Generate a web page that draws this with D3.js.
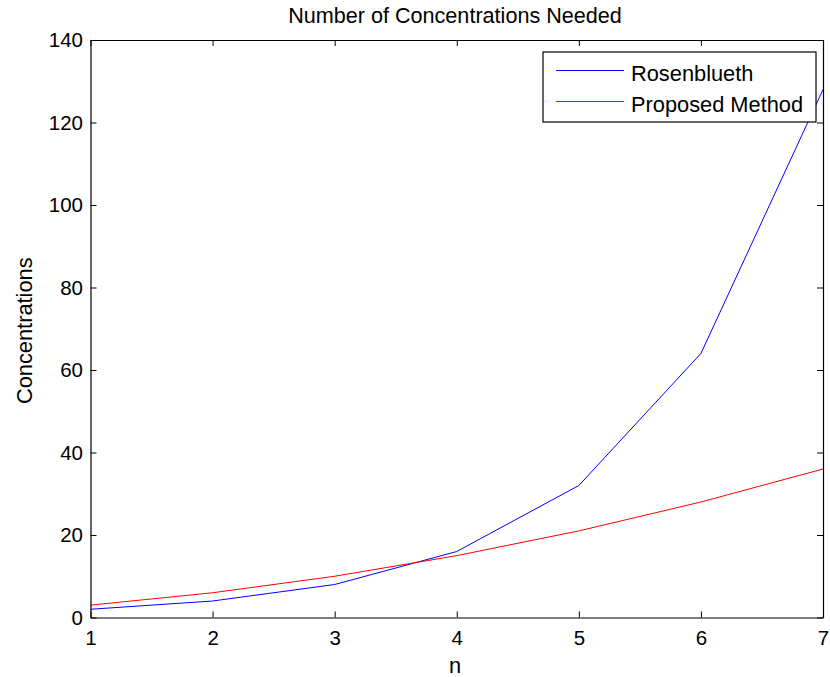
<!DOCTYPE html>
<html>
<head>
<meta charset="utf-8">
<script src="https://cdn.jsdelivr.net/npm/d3@7"></script>
<style>
  html, body { margin: 0; padding: 0; background: #fff; }
  text { font-family: "Liberation Sans", Arial, sans-serif; fill: #000; }
</style>
</head>
<body>
<svg id="chart" width="830" height="677"></svg>
<script>
// n values on the x axis
const nValues = [1, 2, 3, 4, 5, 6, 7];
// Concentrations required by each method
const rosenblueth = [2, 4, 8, 16, 32, 64, 128];
const proposed = [3, 6, 10, 15, 21, 28, 36];
const xTicks = [1, 2, 3, 4, 5, 6, 7];
const yTicks = [0, 20, 40, 60, 80, 100, 120, 140];
const seriesNames = ["Rosenblueth", "Proposed Method"];
const seriesColors = ["#0000ff", "#ff0000"];

const svg = d3.select("#chart");
const plotLeft = 90.5, plotRight = 823, plotTop = 40, plotBottom = 617.5;

const x = d3.scaleLinear().domain([1, 7]).range([plotLeft, plotRight]);
const y = d3.scaleLinear().domain([0, 140]).range([plotBottom, plotTop]);

const fs = 20.5;      // tick labels
const fsWords = 21.8; // title, axis labels, legend

// Series lines
const line = d3.line().x((d, i) => x(nValues[i])).y(d => y(d));
[rosenblueth, proposed].forEach((vals, k) => {
  svg.append("path")
    .datum(vals)
    .attr("d", line)
    .attr("fill", "none")
    .attr("stroke", seriesColors[k])
    .attr("stroke-width", 1);
});

// Axes box with inward ticks on all sides
const tickLen = 6;
const bottomAxis = d3.axisBottom(x).tickValues(xTicks).tickSizeInner(-tickLen).tickSizeOuter(0).tickFormat(d3.format("d"));
const topAxis = d3.axisTop(x).tickValues(xTicks).tickSizeInner(-tickLen).tickSizeOuter(0).tickFormat("");
const leftAxis = d3.axisLeft(y).tickValues(yTicks).tickSizeInner(-tickLen).tickSizeOuter(0).tickFormat(d3.format("d"));
const rightAxis = d3.axisRight(y).tickValues(yTicks).tickSizeInner(-tickLen).tickSizeOuter(0).tickFormat("");

function style(g) {
  g.select(".domain").attr("stroke", "#000").attr("stroke-width", 1.2);
  g.selectAll(".tick line").attr("stroke", "#000").attr("stroke-width", 1);
  g.selectAll(".tick text").attr("font-size", fs).attr("font-family", "Liberation Sans, Arial, sans-serif").attr("fill", "#000");
}

svg.append("g").attr("transform", `translate(0,${plotBottom})`).call(bottomAxis).call(style)
  .selectAll(".tick text").attr("dy", 0).attr("y", 27.5);
svg.append("g").attr("transform", `translate(0,${plotTop})`).call(topAxis).call(style);
svg.append("g").attr("transform", `translate(${plotLeft},0)`).call(leftAxis).call(style)
  .selectAll(".tick text").attr("x", -7.5);
svg.append("g").attr("transform", `translate(${plotRight},0)`).call(rightAxis).call(style);

// Title and axis labels
svg.append("text").attr("x", 455).attr("y", 23).attr("text-anchor", "middle")
  .attr("font-size", 21.6).text("Number of Concentrations Needed");
svg.append("text").attr("x", 455).attr("y", 673).attr("text-anchor", "middle")
  .attr("font-size", fsWords).text("n");
svg.append("text").attr("transform", `translate(32,${(plotTop + plotBottom) / 2 + 2}) rotate(-90)`)
  .attr("text-anchor", "middle").attr("font-size", fsWords).text("Concentrations");

// Legend
const lg = svg.append("g");
lg.append("rect").attr("x", 543).attr("y", 52).attr("width", 273).attr("height", 70)
  .attr("fill", "#fff").attr("stroke", "#000").attr("stroke-width", 1.2);
seriesNames.forEach((name, k) => {
  const ly = 70.5 + k * 31;
  lg.append("line").attr("x1", 556).attr("x2", 624).attr("y1", ly).attr("y2", ly)
    .attr("stroke", seriesColors[k]).attr("stroke-width", 1);
  lg.append("text").attr("x", 631).attr("y", ly + 10).attr("font-size", fsWords).text(name);
});
</script>
</body>
</html>
